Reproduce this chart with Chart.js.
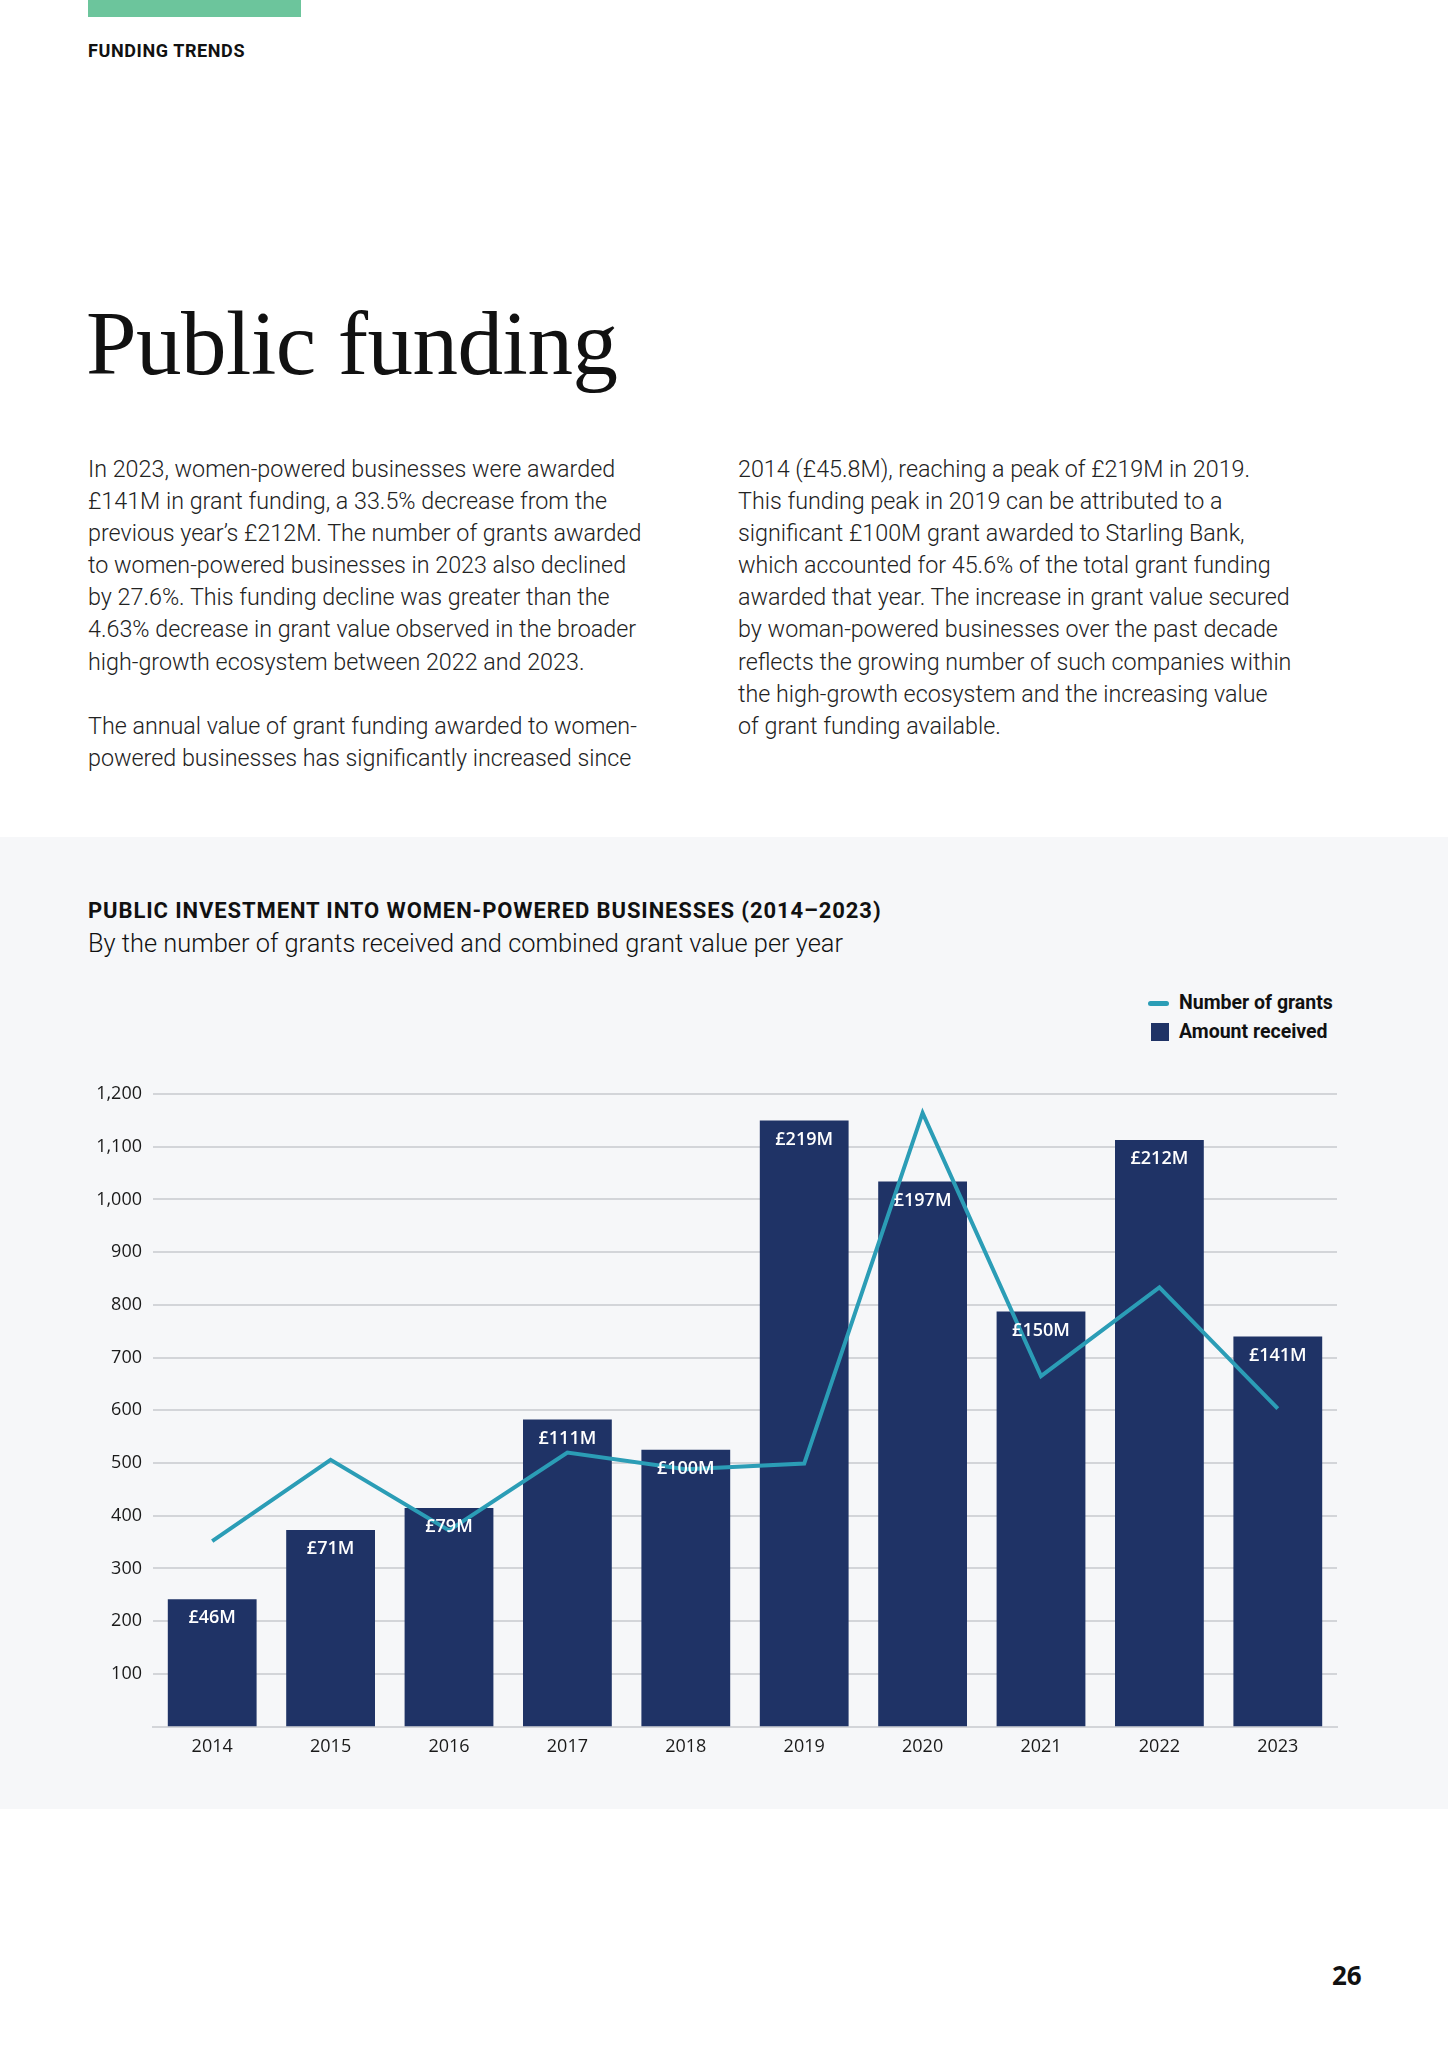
<!DOCTYPE html>
<html lang="en">
<head>
<meta charset="UTF-8">
<title>Public funding</title>
<script src="https://cdn.jsdelivr.net/npm/chart.js"></script>
<style>
  html, body { margin: 0; padding: 0; background: #fff; }
  .page { position: relative; width: 1448px; height: 2048px; overflow: hidden; font-family: Roboto, "Open Sans", sans-serif; color: #111; }
  .topbar { position: absolute; left: 88px; top: 0; width: 213px; height: 17px; background: #6cc59c; }
  .kicker { position: absolute; left: 88px; top: 40px; font-size: 18px; font-weight: 700; letter-spacing: 0.6px; }
  h1 { position: absolute; left: 86px; top: 298px; margin: 0; font-family: "Liberation Serif", "DejaVu Serif", serif; font-weight: 400; font-size: 91px; line-height: 1; letter-spacing: -0.5px; }
  .col { position: absolute; top: 453px; font-size: 23.3px; font-weight: 300; line-height: 32.1px; color: #222; }
  .col.left { left: 88px; }
  .col.right { left: 738px; }
  .panel { position: absolute; left: 0; top: 837px; width: 1448px; height: 972px; background: #f6f7f9; }
  .ctitle { position: absolute; left: 88px; top: 898px; font-size: 22px; font-weight: 700; letter-spacing: 0.9px; }
  .csub { position: absolute; left: 88px; top: 928px; font-size: 25.4px; font-weight: 300; }
  .legend { position: absolute; left: 1148px; top: 989px; font-size: 19.5px; font-weight: 700; }
  .legend div { height: 28.5px; line-height: 28.5px; position: relative; padding-left: 31px; }
  .legend .ln::before { content: ""; position: absolute; left: 0; top: 12px; width: 21px; height: 5px; border-radius: 3px; background: #2b9db6; }
  .legend .sq::before { content: ""; position: absolute; left: 3px; top: 5px; width: 18px; height: 18px; background: #1f3366; }
  .chartbox { position: absolute; left: 0; top: 1060px; width: 1448px; height: 720px; }
  .pnum { position: absolute; left: 1332px; top: 1957px; font-size: 26px; font-weight: 700; font-family: "Open Sans", sans-serif; }
</style>
</head>
<body>
<div class="page">
  <div class="topbar"></div>
  <div class="kicker">FUNDING TRENDS</div>
  <h1>Public funding</h1>
  <div class="col left">In 2023, women-powered businesses were awarded<br>£141M in grant funding, a 33.5% decrease from the<br>previous year’s £212M. The number of grants awarded<br>to women-powered businesses in 2023 also declined<br>by 27.6%. This funding decline was greater than the<br>4.63% decrease in grant value observed in the broader<br>high-growth ecosystem between 2022 and 2023.<br><br>The annual value of grant funding awarded to women-<br>powered businesses has significantly increased since</div>
  <div class="col right">2014 (£45.8M), reaching a peak of £219M in 2019.<br>This funding peak in 2019 can be attributed to a<br>significant £100M grant awarded to Starling Bank,<br>which accounted for 45.6% of the total grant funding<br>awarded that year. The increase in grant value secured<br>by woman-powered businesses over the past decade<br>reflects the growing number of such companies within<br>the high-growth ecosystem and the increasing value<br>of grant funding available.</div>
  <div class="panel"></div>
  <div class="ctitle">PUBLIC INVESTMENT INTO WOMEN-POWERED BUSINESSES (2014–2023)</div>
  <div class="csub">By the number of grants received and combined grant value per year</div>
  <div class="legend">
    <div class="ln">Number of grants</div>
    <div class="sq">Amount received</div>
  </div>
  <div class="chartbox"><canvas id="chart"></canvas></div>
  <div class="pnum">26</div>
</div>
<script>
  // data
  const years = ['2014', '2015', '2016', '2017', '2018', '2019', '2020', '2021', '2022', '2023'];
  const amountMillions = [46, 71, 79, 111, 100, 219, 197, 150, 212, 141];
  const grantCounts = [352, 506, 372, 520, 488, 499, 1164, 665, 833, 603];
  const yTicks = [100, 200, 300, 400, 500, 600, 700, 800, 900, 1000, 1100, 1200];

  const barColor = '#1f3366';
  const lineColor = '#2b9db6';

  // white £ labels inside the top of each bar
  const barLabels = {
    id: 'barLabels',
    afterDatasetsDraw(chart) {
      const ctx = chart.ctx;
      const meta = chart.getDatasetMeta(1);
      ctx.save();
      ctx.fillStyle = '#ffffff';
      ctx.font = '600 18px "Open Sans", sans-serif';
      ctx.textAlign = 'center';
      ctx.textBaseline = 'middle';
      meta.data.forEach((bar, i) => {
        ctx.fillText('£' + amountMillions[i] + 'M', bar.x, bar.y + 19);
      });
      ctx.restore();
    }
  };

  new Chart(document.getElementById('chart'), {
    data: {
      labels: years,
      datasets: [
        {
          type: 'line',
          label: 'Number of grants',
          data: grantCounts,
          yAxisID: 'y',
          borderColor: lineColor,
          borderWidth: 4,
          pointRadius: 0,
          tension: 0,
          order: 0
        },
        {
          type: 'bar',
          label: 'Amount received',
          data: amountMillions,
          yAxisID: 'y1',
          backgroundColor: barColor,
          barPercentage: 0.75,
          categoryPercentage: 1,
          order: 1
        }
      ]
    },
    options: {
      responsive: true,
      maintainAspectRatio: false,
      animation: false,
      layout: { padding: { top: 34, right: 111, bottom: 0, left: 0 } },
      plugins: { legend: { display: false }, tooltip: { enabled: false } },
      scales: {
        x: {
          grid: { display: false, drawTicks: false },
          border: { display: true, color: '#d3d5d9', width: 2 },
          ticks: { color: '#1a1a1a', font: { family: '"Open Sans", sans-serif', size: 18 }, padding: 9 },
          afterFit(scale) { scale.height = 53.4; }
        },
        y: {
          min: 0,
          max: 1200,
          grid: { color: '#d3d5d9', lineWidth: 2, drawTicks: false },
          border: { display: false },
          afterBuildTicks(scale) { scale.ticks = [0].concat(yTicks).map(v => ({ value: v })); },
          ticks: {
            color: '#1a1a1a',
            font: { family: '"Open Sans", sans-serif', size: 18 },
            padding: 11,
            callback: v => v === 0 ? '' : v.toLocaleString('en-US')
          },
          afterFit(scale) { scale.width = 153; }
        },
        y1: {
          display: false,
          min: 0,
          max: 228.6
        }
      }
    },
    plugins: [barLabels]
  });
</script>
</body>
</html>
